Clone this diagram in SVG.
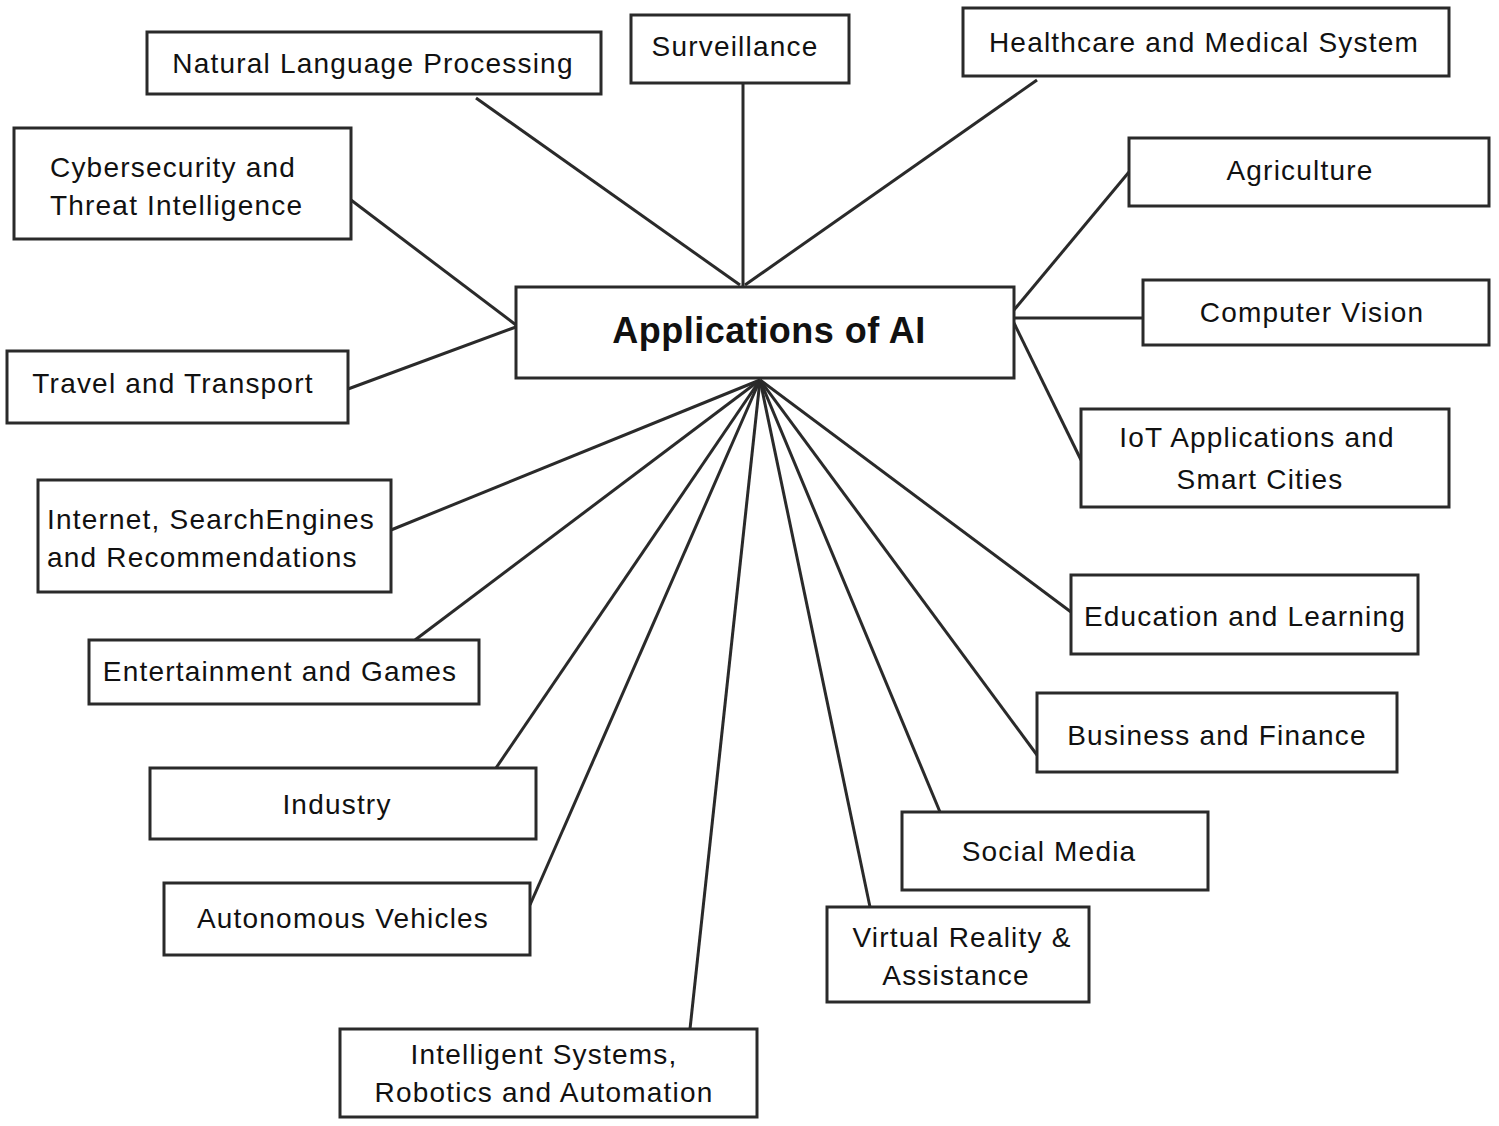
<svg xmlns="http://www.w3.org/2000/svg" width="1499" height="1126" viewBox="0 0 1499 1126">
<style>
rect{fill:#fff;stroke:#2a2a2a;stroke-width:3}
text{font-family:"Liberation Sans",Arial,sans-serif;font-size:28px;fill:#111;letter-spacing:1.2px}
.m{text-anchor:middle}
#conn line{stroke:#2a2a2a;stroke-width:3}
</style>
<rect x="0" y="0" width="1499" height="1126" style="stroke:none"/>
<g id="conn">
<line x1="476" y1="98" x2="740" y2="285"/>
<line x1="743" y1="83" x2="743" y2="288"/>
<line x1="1037" y1="80" x2="745" y2="285"/>
<line x1="351" y1="200" x2="516" y2="325"/>
<line x1="348" y1="389" x2="516" y2="327"/>
<line x1="1014" y1="310" x2="1129" y2="172"/>
<line x1="1014" y1="318" x2="1143" y2="318"/>
<line x1="1014" y1="323" x2="1081" y2="460"/>
<line x1="760" y1="380" x2="391" y2="530"/>
<line x1="760" y1="380" x2="415" y2="640"/>
<line x1="760" y1="380" x2="496" y2="768"/>
<line x1="760" y1="380" x2="530" y2="905"/>
<line x1="760" y1="380" x2="690" y2="1029"/>
<line x1="760" y1="380" x2="870" y2="907"/>
<line x1="760" y1="380" x2="940" y2="812"/>
<line x1="760" y1="380" x2="1037" y2="755"/>
<line x1="760" y1="380" x2="1071" y2="612"/>
</g>
<g id="center"><rect x="516" y="287" width="498" height="91"/><text class="m" x="769" y="343" style="font-size:36px;font-weight:bold;letter-spacing:0.5px">Applications of AI</text></g>
<g id="nlp"><rect x="147" y="32" width="454" height="62"/><text class="m" x="373" y="73">Natural Language Processing</text></g>
<g id="surv"><rect x="631" y="15" width="218" height="68"/><text class="m" x="735" y="56">Surveillance</text></g>
<g id="health"><rect x="963" y="8" width="486" height="68"/><text class="m" x="1204" y="52">Healthcare and Medical System</text></g>
<g id="cyber"><rect x="14" y="128" width="337" height="111"/><text x="50" y="177">Cybersecurity and</text><text x="50" y="215">Threat Intelligence</text></g>
<g id="agri"><rect x="1129" y="138" width="360" height="68"/><text class="m" x="1300" y="180">Agriculture</text></g>
<g id="cv"><rect x="1143" y="280" width="346" height="65"/><text class="m" x="1312" y="322">Computer Vision</text></g>
<g id="travel"><rect x="7" y="351" width="341" height="72"/><text class="m" x="173" y="393">Travel and Transport</text></g>
<g id="iot"><rect x="1081" y="409" width="368" height="98"/><text class="m" x="1257" y="447">IoT Applications and</text><text class="m" x="1260" y="489">Smart Cities</text></g>
<g id="internet"><rect x="38" y="480" width="353" height="112"/><text x="47" y="529">Internet, SearchEngines</text><text x="47" y="567">and Recommendations</text></g>
<g id="edu"><rect x="1071" y="575" width="347" height="79"/><text class="m" x="1245" y="626">Education and Learning</text></g>
<g id="ent"><rect x="89" y="640" width="390" height="64"/><text class="m" x="280" y="681">Entertainment and Games</text></g>
<g id="biz"><rect x="1037" y="693" width="360" height="79"/><text class="m" x="1217" y="745">Business and Finance</text></g>
<g id="industry"><rect x="150" y="768" width="386" height="71"/><text class="m" x="337" y="814">Industry</text></g>
<g id="social"><rect x="902" y="812" width="306" height="78"/><text class="m" x="1049" y="861">Social Media</text></g>
<g id="auto"><rect x="164" y="883" width="366" height="72"/><text class="m" x="343" y="928">Autonomous Vehicles</text></g>
<g id="vr"><rect x="827" y="907" width="262" height="95"/><text class="m" x="962" y="947">Virtual Reality &amp;</text><text class="m" x="956" y="985">Assistance</text></g>
<g id="intel"><rect x="340" y="1029" width="417" height="88"/><text class="m" x="544" y="1064">Intelligent Systems,</text><text class="m" x="544" y="1102">Robotics and Automation</text></g>
</svg>
